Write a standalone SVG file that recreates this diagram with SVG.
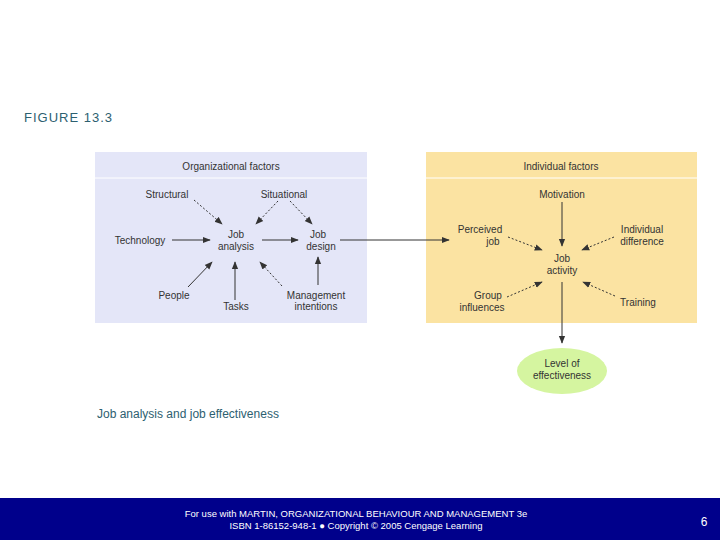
<svg xmlns="http://www.w3.org/2000/svg" width="720" height="540" viewBox="0 0 720 540">
<style>
text{font-family:"Liberation Sans",Arial,sans-serif;font-size:10px;fill:#333}
.c{text-anchor:middle}
.s{stroke:#333;stroke-width:1;fill:none;marker-end:url(#a)}
.d{stroke-dasharray:2,2}
</style>
<defs><marker id="a" viewBox="0 0 10 10" refX="9" refY="5" markerWidth="8" markerHeight="8" orient="auto" markerUnits="userSpaceOnUse"><path d="M0,1L10,5L0,9z" fill="#333"/></marker></defs>
<rect width="720" height="540" fill="#fff"/>
<text x="24" y="122" style="font-size:13px;fill:#2d6070;letter-spacing:1px">FIGURE 13.3</text>
<g id="org"><rect x="95" y="152" width="272" height="171" fill="#e4e6f8"/><line x1="95" y1="178" x2="367" y2="178" stroke="#fff"/><text x="231" y="170" class="c">Organizational factors</text></g>
<g id="ind"><rect x="426" y="152" width="271" height="171" fill="#fbe3a2"/><line x1="426" y1="178" x2="697" y2="178" stroke="#fff"/><text x="561" y="170" class="c">Individual factors</text></g>
<g id="structural"><text x="167" y="198" class="c">Structural</text></g>
<g id="situational"><text x="284" y="198" class="c">Situational</text></g>
<g id="technology"><text x="140" y="244" class="c">Technology</text></g>
<g id="jobanalysis"><text x="236" y="238" class="c">Job</text><text x="236" y="250" class="c">analysis</text></g>
<g id="jobdesign"><text x="318" y="238" class="c">Job</text><text x="321" y="250" class="c">design</text></g>
<g id="people"><text x="174" y="299" class="c">People</text></g>
<g id="tasks"><text x="236" y="310" class="c">Tasks</text></g>
<g id="mgmt"><text x="316" y="299" class="c">Management</text><text x="316" y="310" class="c">intentions</text></g>
<g id="motivation"><text x="562" y="198" class="c">Motivation</text></g>
<g id="perceived"><text x="480" y="233" class="c">Perceived</text><text x="493" y="245" class="c">job</text></g>
<g id="indiff"><text x="642" y="233" class="c">Individual</text><text x="642" y="245" class="c">difference</text></g>
<g id="jobactivity"><text x="562" y="262" class="c">Job</text><text x="562" y="274" class="c">activity</text></g>
<g id="group"><text x="488" y="299" class="c">Group</text><text x="482" y="311" class="c">influences</text></g>
<g id="training"><text x="638" y="306" class="c">Training</text></g>
<g id="level"><ellipse cx="562" cy="371" rx="45" ry="23" fill="#d5f5a0"/><text x="562" y="367" class="c">Level of</text><text x="562" y="379" class="c">effectiveness</text></g>
<g id="connectors">
<path class="s d" d="M194,200L222,224"/>
<path class="s d" d="M278,201L256,224"/>
<path class="s d" d="M290,201L312,224"/>
<path class="s" d="M172,240L210,240"/>
<path class="s" d="M262,240L298,240"/>
<path class="s" d="M340,240L449,240"/>
<path class="s" d="M188,287L212,262"/>
<path class="s" d="M235,300L235,262"/>
<path class="s d" d="M282,286L260,262"/>
<path class="s" d="M318,285L318,257"/>
<path class="s" d="M562,202L562,246"/>
<path class="s d" d="M508,237L542,250"/>
<path class="s d" d="M614,237L582,250"/>
<path class="s d" d="M507,297L542,282"/>
<path class="s d" d="M615,296L583,282"/>
<path class="s" d="M562,282L562,343"/>
</g>
<text x="97" y="418" style="font-size:12px;fill:#2d6070">Job analysis and job effectiveness</text>
<rect x="0" y="498" width="720" height="42" fill="#00008b"/>
<text x="356" y="517" class="c" style="fill:#fff;font-size:9.5px">For use with MARTIN, ORGANIZATIONAL BEHAVIOUR AND MANAGEMENT 3e</text>
<text x="356" y="529" class="c" style="fill:#fff;font-size:9.5px">ISBN 1-86152-948-1 ● Copyright © 2005 Cengage Learning</text>
<text x="704" y="526" class="c" style="fill:#fff;font-size:12px">6</text>
</svg>
